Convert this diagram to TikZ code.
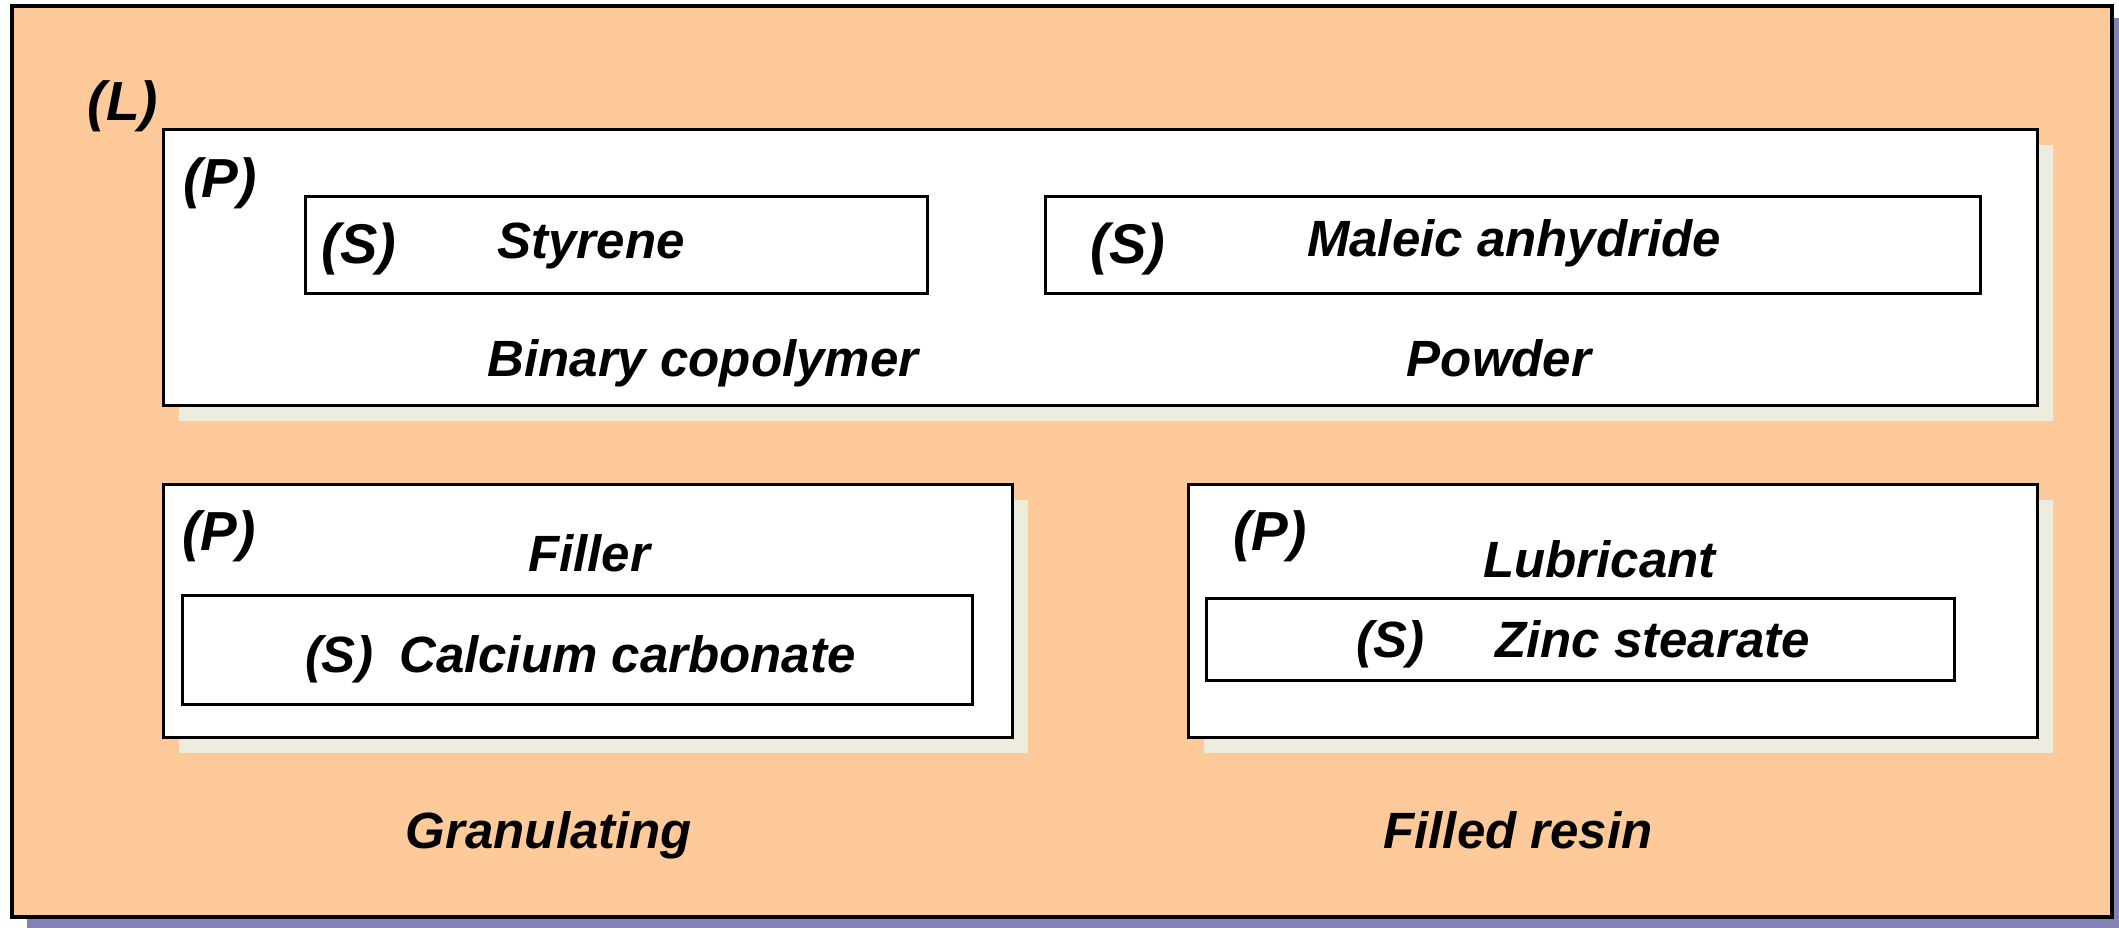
\documentclass[tikz,border=0pt]{standalone}
\usepackage{fontspec}
\setmainfont{Liberation Sans}
\usetikzlibrary{shadows}
\definecolor{peach}{HTML}{FFCA99}
\definecolor{layershadow}{HTML}{8282B8}
\definecolor{panelshadow}{HTML}{EEEBDF}
\tikzset{
  layerbox/.style={draw=black, line width=4pt, fill=peach, inner sep=0pt,
    drop shadow={shadow xshift=15pt, shadow yshift=-12pt, fill=layershadow, opacity=1}},
  panelbox/.style={draw=black, line width=3pt, fill=white, inner sep=0pt,
    drop shadow={shadow xshift=16pt, shadow yshift=-16pt, fill=panelshadow, opacity=1}},
  itembox/.style={draw=black, line width=3pt, fill=white, inner sep=0pt},
  lbl/.style={inner sep=0pt, font=\bfseries\itshape\fontsize{51}{61}\selectfont},
  tag/.style={inner sep=0pt, font=\bfseries\itshape\fontsize{55}{66}\selectfont},
  stag/.style={inner sep=0pt, font=\bfseries\itshape\fontsize{56}{67}\selectfont},
}
\begin{document}
\begin{tikzpicture}[x=1pt, y=-1pt]
\useasboundingbox (0,0) rectangle (2119,927);

% outer layer
\node[layerbox, minimum width=2100pt, minimum height=911pt] (L) at (1062,461.5) {};
\node[tag, anchor=base] (Ltag) at (123,120) {(L)};

% top panel: binary copolymer powder
\node[panelbox, minimum width=1874pt, minimum height=276pt] (P1) at (1100,267) {};
\node[tag, anchor=base] (P1tag) at (220,197) {(P)};
\node[itembox, minimum width=622pt, minimum height=97pt] (S1) at (616,244.5) {};
\node[stag, anchor=base] (S1tag) at (359,263) {(S)};
\node[lbl, anchor=base] (S1txt) at (591,258) {Styrene};
\node[itembox, minimum width=935pt, minimum height=97pt] (S2) at (1512.5,244.5) {};
\node[stag, anchor=base] (S2tag) at (1128,263) {(S)};
\node[lbl, anchor=base] (S2txt) at (1514,256) {Maleic anhydride};
\node[lbl, anchor=base] (P1a) at (703,376) {Binary copolymer};
\node[lbl, anchor=base] (P1b) at (1499,376) {Powder};

% lower left panel: filler
\node[panelbox, minimum width=849pt, minimum height=253pt] (P2) at (587.5,610.5) {};
\node[tag, anchor=base] (P2tag) at (219,550) {(P)};
\node[lbl, anchor=base] (P2txt) at (589,571) {Filler};
\node[itembox, minimum width=790pt, minimum height=109pt] (S3) at (577,649.5) {};
\node[lbl, anchor=base] (S3tag) at (339,672) {(S)};
\node[lbl, anchor=base west] (S3txt) at (399,672) {Calcium carbonate};

% lower right panel: lubricant
\node[panelbox, minimum width=849pt, minimum height=253pt] (P3) at (1612.5,610.5) {};
\node[tag, anchor=base] (P3tag) at (1270,550) {(P)};
\node[lbl, anchor=base west] (P3txt) at (1483,577) {Lubricant};
\node[itembox, minimum width=748pt, minimum height=82pt] (S4) at (1580.5,639) {};
\node[lbl, anchor=base] (S4tag) at (1390,657) {(S)};
\node[lbl, anchor=base west] (S4txt) at (1495,657) {Zinc stearate};

% results
\node[lbl, anchor=base] (R1) at (549,848) {Granulating};
\node[lbl, anchor=base] (R2) at (1518,848) {Filled resin};
\end{tikzpicture}
\end{document}
